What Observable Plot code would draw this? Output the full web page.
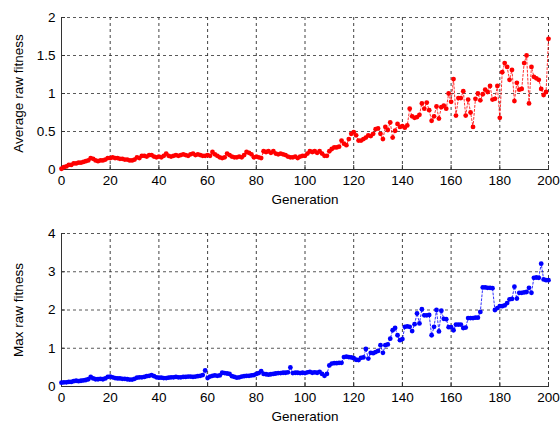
<!DOCTYPE html>
<html>
<head>
<meta charset="utf-8">
<script src="https://cdn.jsdelivr.net/npm/d3@7"></script>
<script src="https://cdn.jsdelivr.net/npm/@observablehq/plot@0.6"></script>
<style>
  html, body { margin: 0; padding: 0; background: #fff; }
  #chart { width: 560px; height: 425px; }
  #chart svg { display: block; }
</style>
</head>
<body>
<div id="chart"></div>
<script>
// Generation index 0..200
const generations = d3.range(0, 201);

// Average raw fitness per generation
const avgFitness = [
  0.01, 0.03, 0.04, 0.06, 0.06, 0.08, 0.08, 0.09, 0.09, 0.10,
  0.11, 0.12, 0.15, 0.14, 0.12, 0.11, 0.12, 0.12, 0.13, 0.15,
  0.15, 0.16, 0.15, 0.15, 0.14, 0.14, 0.13, 0.13, 0.12, 0.12,
  0.13, 0.16, 0.15, 0.18, 0.18, 0.17, 0.19, 0.19, 0.17, 0.16,
  0.17, 0.16, 0.18, 0.21, 0.18, 0.17, 0.18, 0.19, 0.18, 0.19,
  0.20, 0.19, 0.18, 0.20, 0.21, 0.19, 0.20, 0.19, 0.18, 0.18,
  0.19, 0.18, 0.23, 0.20, 0.18, 0.16, 0.15, 0.16, 0.21, 0.19,
  0.17, 0.16, 0.16, 0.17, 0.16, 0.19, 0.23, 0.22, 0.20, 0.16,
  0.17, 0.16, 0.15, 0.24, 0.23, 0.24, 0.22, 0.24, 0.21, 0.20,
  0.21, 0.20, 0.19, 0.17, 0.16, 0.16, 0.17, 0.15, 0.17, 0.18,
  0.18, 0.21, 0.24, 0.23, 0.24, 0.22, 0.24, 0.21, 0.18, 0.18,
  0.24, 0.27, 0.29, 0.29, 0.30, 0.38, 0.34, 0.32, 0.40, 0.47,
  0.49, 0.45, 0.38, 0.38, 0.40, 0.42, 0.45, 0.44, 0.47, 0.53,
  0.54, 0.47, 0.40, 0.56, 0.52, 0.62, 0.42, 0.51, 0.60, 0.56,
  0.57, 0.55, 0.58, 0.80, 0.70, 0.68, 0.69, 0.72, 0.87, 0.80,
  0.88, 0.78, 0.64, 0.70, 0.83, 0.67, 0.82, 0.84, 0.80, 1.00,
  0.89, 1.19, 0.71, 0.94, 0.94, 1.03, 0.71, 0.92, 0.75, 0.56,
  0.93, 1.00, 0.91, 0.99, 1.05, 1.02, 1.10, 0.92, 0.93, 1.10,
  0.68, 1.28, 1.40, 1.35, 1.18, 1.31, 0.90, 1.14, 1.05, 1.06,
  1.40, 1.50, 0.87, 1.35, 1.22, 1.20, 1.18, 1.06, 0.98, 1.02,
  1.72
];

// Max raw fitness per generation
const maxFitness = [
  0.10, 0.11, 0.11, 0.12, 0.12, 0.14, 0.15, 0.14, 0.15, 0.16,
  0.17, 0.19, 0.25, 0.21, 0.19, 0.19, 0.20, 0.19, 0.21, 0.25,
  0.26, 0.24, 0.22, 0.21, 0.21, 0.20, 0.20, 0.19, 0.18, 0.18,
  0.20, 0.23, 0.24, 0.24, 0.25, 0.27, 0.28, 0.30, 0.27, 0.24,
  0.23, 0.23, 0.22, 0.22, 0.23, 0.24, 0.24, 0.25, 0.24, 0.24,
  0.25, 0.25, 0.26, 0.26, 0.25, 0.26, 0.27, 0.28, 0.30, 0.42,
  0.22, 0.26, 0.28, 0.29, 0.28, 0.29, 0.36, 0.35, 0.34, 0.33,
  0.27, 0.25, 0.23, 0.24, 0.26, 0.27, 0.28, 0.28, 0.29, 0.30,
  0.33, 0.35, 0.40, 0.33, 0.32, 0.31, 0.32, 0.33, 0.34, 0.35,
  0.35, 0.36, 0.36, 0.37, 0.50, 0.35, 0.36, 0.36, 0.35, 0.36,
  0.35, 0.37, 0.38, 0.36, 0.37, 0.36, 0.38, 0.33, 0.28, 0.33,
  0.55, 0.60, 0.61, 0.61, 0.62, 0.62, 0.77, 0.78, 0.77, 0.76,
  0.74, 0.70, 0.69, 0.75, 0.76, 0.98, 0.73, 0.88, 0.87, 0.90,
  0.93, 1.08, 0.88, 1.08, 1.10, 1.25, 1.47, 1.53, 1.34, 1.21,
  1.24, 1.56, 1.57, 1.56, 1.45, 1.63, 1.91, 1.65, 2.02, 1.86,
  1.86, 1.87, 1.34, 1.56, 2.00, 1.44, 1.98, 1.77, 1.76, 1.55,
  1.55, 1.47, 1.62, 1.62, 1.62, 1.53, 1.54, 1.79, 1.79, 1.79,
  1.80, 1.80, 1.95, 2.59, 2.59, 2.58, 2.58, 2.57, 2.00, 2.05,
  2.10, 2.10, 2.12, 2.18, 2.28, 2.29, 2.61, 2.30, 2.45, 2.45,
  2.46, 2.47, 2.58, 2.45, 2.84, 2.85, 2.84, 3.21, 2.80, 2.78,
  2.78
];

const xTicks = [0, 20, 40, 60, 80, 100, 120, 140, 160, 180, 200];
const avgTicks = [0, 0.5, 1, 1.5, 2];
const maxTicks = [0, 1, 2, 3, 4];
const xLabel = "Generation";
const avgLabel = "Average raw fitness";
const maxLabel = "Max raw fitness";

const FONT = "'Liberation Sans', Arial, sans-serif";

function panel({values, yDomain, yTicks, yLabel, color, height, marginTop, marginBottom}) {
  const data = generations.map((g, i) => ({g, v: values[i]}));
  return Plot.plot({
    width: 560,
    height,
    marginLeft: 61,
    marginRight: 12,
    marginTop,
    marginBottom,
    style: {fontFamily: FONT, fontSize: "13.5px", color: "#000", background: "#fff", overflow: "visible"},
    x: {domain: [0, 200], ticks: xTicks},
    y: {domain: yDomain, ticks: yTicks},
    marks: [
      Plot.gridX(xTicks, {stroke: "#222", strokeOpacity: 0.85, strokeDasharray: "3,3"}),
      Plot.gridY(yTicks, {stroke: "#222", strokeOpacity: 0.75, strokeDasharray: "3,3"}),
      Plot.axisX(xTicks, {
        tickSize: -4, tickPadding: 10, tickFormat: d => String(d),
        label: xLabel, labelAnchor: "center", labelArrow: "none", labelOffset: 34,
        stroke: "#333", fill: "#000"
      }),
      Plot.axisY(yTicks, {
        tickSize: -4, tickPadding: 10, tickFormat: d => String(d),
        label: yLabel, labelAnchor: "center", labelArrow: "none", labelOffset: 48,
        stroke: "#333", fill: "#000"
      }),
      Plot.frame({anchor: "left", stroke: "#333"}),
      Plot.frame({anchor: "bottom", stroke: "#333"}),
      Plot.line(data, {x: "g", y: "v", stroke: color, strokeWidth: 1, strokeOpacity: 0.8, strokeDasharray: "2,2"}),
      Plot.dot(data, {x: "g", y: "v", r: 2.4, fill: color, stroke: "none"})
    ]
  });
}

const chart = document.getElementById("chart");
chart.append(panel({
  values: avgFitness, yDomain: [0, 2], yTicks: avgTicks, yLabel: avgLabel,
  color: "#ff0000", height: 210, marginTop: 17, marginBottom: 41
}));
chart.append(panel({
  values: maxFitness, yDomain: [0, 4], yTicks: maxTicks, yLabel: maxLabel,
  color: "#0000ff", height: 215, marginTop: 23, marginBottom: 39
}));
</script>
</body>
</html>
